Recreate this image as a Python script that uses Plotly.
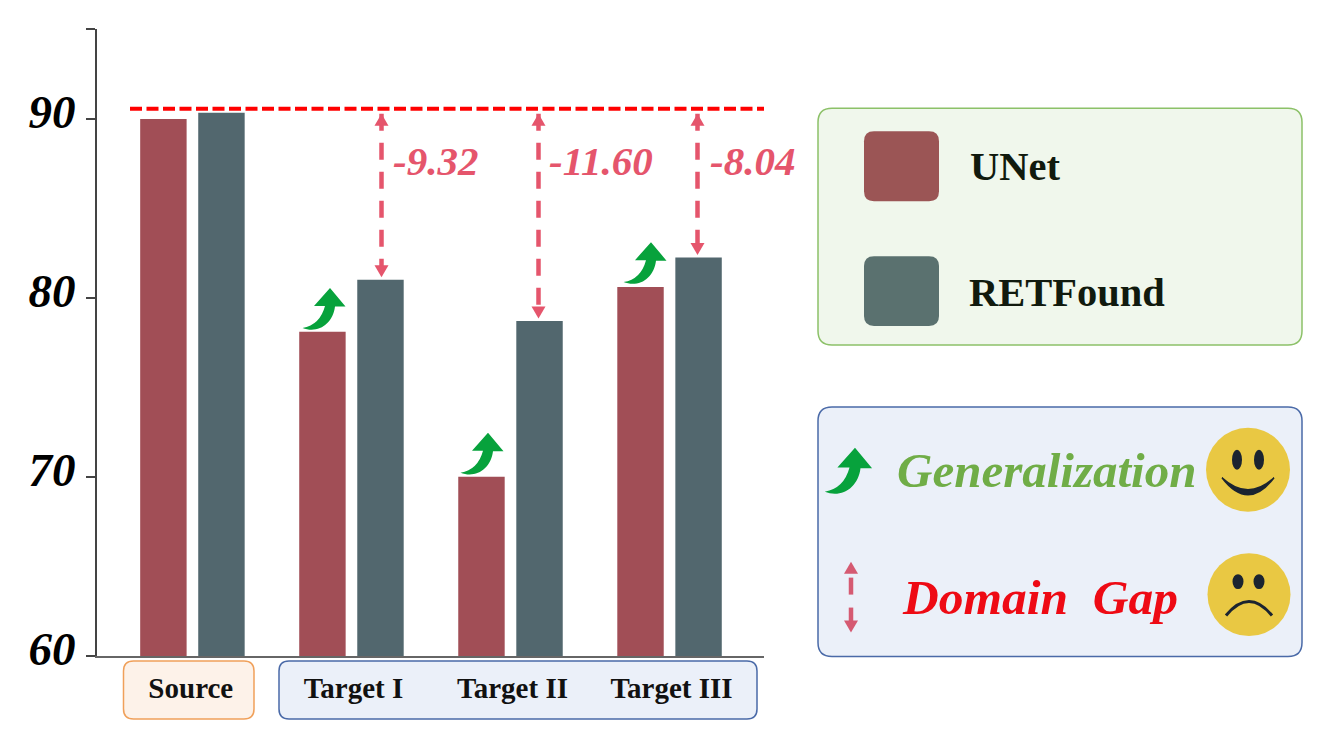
import plotly.graph_objects as go

# --- data ---
categories = ["Source", "Target I", "Target II", "Target III"]
tick_labels = ["Source\u00a0", "Target I", "Target II", "Target III"]
unet = [89.98, 78.1, 70.0, 80.6]
retfound = [90.33, 81.0, 78.7, 82.25]
gap_level = 90.55
gap_targets = ["Target I", "Target II", "Target III"]
gap_labels = ["-9.32", "-11.60", "-8.04"]
y_ticks = [60, 70, 80, 90, 95]
y_tick_text = ["60", "70", "80", "90", ""]

SERIF = "Liberation Serif"
RED_BAR = "#a14e56"
TEAL_BAR = "#52676e"
GAP_RED = "#e5556c"
GREEN = "#07a23c"

# plot area in page pixels, decorations are placed relative to it
LEFT, RIGHT, TOP, BOTTOM = 97, 764, 28.5, 656.5
W, H = 1330, 729


def px(x):
    return (x - LEFT) / (RIGHT - LEFT)


def py(y):
    return (BOTTOM - y) / (BOTTOM - TOP)


def val_to_py(v):
    return BOTTOM - (v - 60) / 35 * (BOTTOM - TOP)


def pt(x, y):
    return f"{px(x):.5f},{py(y):.5f}"


def rounded_rect(x0, y0, x1, y1, r):
    return (
        f"M{pt(x0 + r, y0)} L{pt(x1 - r, y0)} Q{pt(x1, y0)} {pt(x1, y0 + r)} "
        f"L{pt(x1, y1 - r)} Q{pt(x1, y1)} {pt(x1 - r, y1)} "
        f"L{pt(x0 + r, y1)} Q{pt(x0, y1)} {pt(x0, y1 - r)} "
        f"L{pt(x0, y0 + r)} Q{pt(x0, y0)} {pt(x0 + r, y0)} Z"
    )


def add_path(fig, path, fill=None, line=None, width=0, layer="above"):
    fig.add_shape(
        type="path", path=path, xref="paper", yref="paper", layer=layer,
        fillcolor=fill if fill else "rgba(0,0,0,0)",
        line=dict(color=line if line else "rgba(0,0,0,0)", width=width),
    )


def add_box(fig, x0, y0, x1, y1, r, fill, line, width=1.5, layer="below"):
    add_path(fig, rounded_rect(x0, y0, x1, y1, r), fill, line, width, layer)


def add_oval(fig, cx, cy, rx, ry, color):
    fig.add_shape(
        type="circle", xref="paper", yref="paper", layer="above",
        x0=px(cx - rx), x1=px(cx + rx), y0=py(cy + ry), y1=py(cy - ry),
        fillcolor=color, line=dict(width=0),
    )


def add_text(fig, x, y, text, size, color, italic=True, anchor="center"):
    fig.add_annotation(
        x=px(x), y=py(y), xref="paper", yref="paper", text=text, showarrow=False,
        xanchor=anchor, yanchor="middle",
        font=dict(family=SERIF, size=size, color=color, weight="bold",
                  style="italic" if italic else "normal"),
    )


def add_head(fig, x, tip_y, direction, color, half=7, length=12):
    # direction -1: pointing up, +1: pointing down
    base = tip_y - direction * length
    add_path(fig, f"M{pt(x, tip_y)} L{pt(x - half, base)} L{pt(x + half, base)} Z", color)


def add_green_arrow(fig, tx, ty, s=1.0):
    # tx, ty is the tip of the arrow, s scales it
    def p(dx, dy):
        return pt(tx + dx * s, ty + dy * s)

    path = (
        f"M{p(-27.5, 40)} "
        f"Q{p(-10, 37)} {p(-5, 18)} "
        f"L{p(-16, 18)} L{p(0, 0)} L{p(15.5, 18.5)} "
        f"L{p(5, 18.5)} "
        f"C{p(3, 36)} {p(-12, 46)} {p(-27.5, 40)} Z"
    )
    add_path(fig, path, GREEN)


fig = go.Figure()
fig.add_trace(go.Bar(x=categories, y=unet, name="UNet", marker=dict(color=RED_BAR, line=dict(width=0))))
fig.add_trace(go.Bar(x=categories, y=retfound, name="RETFound", marker=dict(color=TEAL_BAR, line=dict(width=0))))

# dashed reference level
fig.add_shape(
    type="line", xref="paper", yref="y", x0=px(130), x1=1, y0=gap_level, y1=gap_level,
    line=dict(color="#ff0000", width=4, dash="12px,4.5px"), layer="above",
)

# domain gap arrows
gap_x = [381.5, 538.5, 697.5]
gap_text_x = [435, 600.5, 752.5]
for x, target, label, tx in zip(gap_x, gap_targets, gap_labels, gap_text_x):
    top_y = val_to_py(retfound[categories.index(target)]) - 2.5
    fig.add_shape(
        type="line", xref="paper", yref="paper", x0=px(x), x1=px(x), y0=py(val_to_py(gap_level) + 5), y1=py(top_y - 5),
        line=dict(color=GAP_RED, width=4.5, dash="17px,12px"), layer="above",
    )
    add_head(fig, x, val_to_py(gap_level) + 5, -1, GAP_RED)
    add_head(fig, x, top_y, 1, GAP_RED)
    add_text(fig, tx, 161, label, 41, GAP_RED)

for tip in [(330, 288), (488, 433), (651, 242)]:
    add_green_arrow(fig, *tip)

# boxes behind the category labels
add_box(fig, 123.5, 661.5, 254, 719.5, 10, "#fdf2e9", "#f0a05a")
add_box(fig, 279, 661.5, 757, 719.5, 10, "#ebf0f9", "#4a6aa8")

# legend panel
add_box(fig, 818, 108, 1302, 345, 14, "#f0f7ec", "#8cc168")
add_box(fig, 864, 131, 939, 201, 10, "#9b5555", None, 0, "above")
add_box(fig, 864, 256, 939, 326, 10, "#5a716f", None, 0, "above")
add_text(fig, 968, 166, "UNet", 40.5, "#111a0e", italic=False, anchor="left")
add_text(fig, 967, 292, "RETFound", 40.5, "#111a0e", italic=False, anchor="left")

# meaning panel
add_box(fig, 818, 407, 1302, 657, 14, "#ebf0f9", "#4a6aa8")
add_green_arrow(fig, 855, 448, 1.1)
add_text(fig, 1046.5, 471, "Generalization", 49, "#70ad47")
add_text(fig, 1040, 598, "Domain\u00a0\u00a0Gap", 49.5, "#ee0a14")

# small double arrow
add_head(fig, 851, 562, -1, "#d55a72")
add_head(fig, 851, 633, 1, "#d55a72")
fig.add_shape(type="line", xref="paper", yref="paper", x0=px(851), x1=px(851), y0=py(578), y1=py(595),
              line=dict(color="#d55a72", width=4.5), layer="above")
fig.add_shape(type="line", xref="paper", yref="paper", x0=px(851), x1=px(851), y0=py(608), y1=py(622),
              line=dict(color="#d55a72", width=4.5), layer="above")

# smiley faces
add_oval(fig, 1248, 470, 42, 42, "#e9c843")
add_oval(fig, 1237, 460, 5, 10, "#1b2430")
add_oval(fig, 1259, 460, 5, 10, "#1b2430")
add_path(fig, f"M{pt(1222, 478)} Q{pt(1248, 512)} {pt(1274, 478)} Q{pt(1248, 502)} {pt(1222, 478)} Z", "#1b2430", "#1b2430", 1.5)

add_oval(fig, 1249, 595, 41.5, 41.5, "#e9c843")
add_oval(fig, 1238, 582, 5.5, 7.5, "#1b2430")
add_oval(fig, 1259, 582, 5.5, 7.5, "#1b2430")
add_path(fig, f"M{pt(1226, 616)} Q{pt(1249, 588)} {pt(1272, 616)}", None, "#1b2430", 3)

fig.update_layout(
    width=W, height=H,
    margin=dict(l=LEFT, r=W - RIGHT, t=TOP, b=H - BOTTOM, pad=0),
    barmode="group", bargap=0.27, bargroupgap=0.2,
    showlegend=False,
    paper_bgcolor="white", plot_bgcolor="white",
)
fig.update_xaxes(
    type="category", range=[-0.6, 3.594], showgrid=False, zeroline=False,
    showline=True, linecolor="#666666", linewidth=1.5, ticks="", ticklabelshift=2,
    ticklabelstandoff=5, tickvals=categories, ticktext=tick_labels,
    tickfont=dict(family=SERIF, size=29, color="#111111", weight="bold"),
)
fig.update_yaxes(
    range=[60, 95], showgrid=False, zeroline=False,
    showline=True, linecolor="#444444", linewidth=2,
    ticks="outside", ticklen=9, tickwidth=1.5, tickcolor="#444444",
    tickvals=y_ticks, ticktext=y_tick_text, ticklabelstandoff=1, ticklabelshift=-7,
    tickfont=dict(family=SERIF, size=47, color="#000000", weight="bold", style="italic"),
)

fig.write_html("out.html", config=dict(displayModeBar=False),
               post_script="document.body.style.margin='0';")
